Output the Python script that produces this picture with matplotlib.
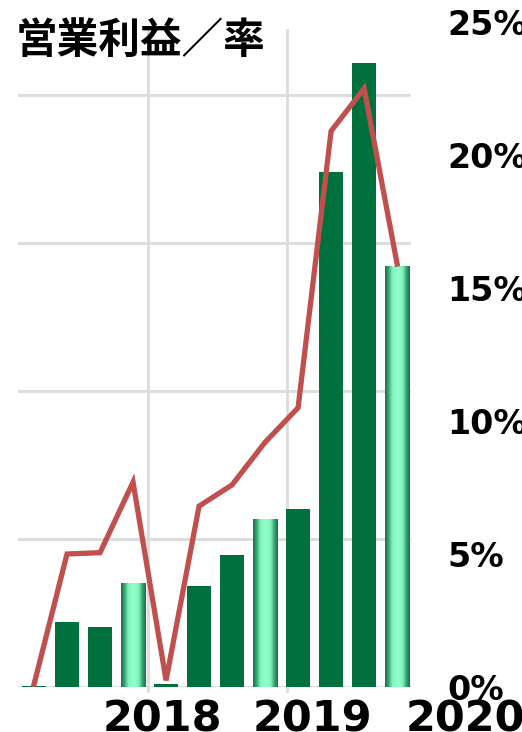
import numpy as np
import matplotlib
matplotlib.use('Agg')
import matplotlib.pyplot as plt
from matplotlib.colors import LinearSegmentedColormap

plt.rcParams['font.family'] = ['Noto Sans CJK JP', 'DejaVu Sans']

# quarterly data (12 quarters)
profit = [1, 44, 40.5, 70, 2, 68, 89, 113.5, 120, 348, 421, 284]
rate = [0.1, 5.0, 5.05, 7.7, 0.25, 6.8, 7.6, 9.2, 10.5, 20.9, 22.5, 15.9]
gradient_bar = [False, False, False, True, False, False, False, True, False, False, False, True]
year_labels = ['2018', '2019', '2020']
rate_ticks = [0, 5, 10, 15, 20, 25]
title = '営業利益／率'

dark_green = '#00703c'
line_red = '#c0504d'
grid_col = '#dcdcdc'

fig = plt.figure(figsize=(5.22, 7.32), dpi=100)
ax = fig.add_axes([18 / 522, 1 - 687 / 732, (411 - 18) / 522, (687 - 22) / 732])
ax2 = ax.twinx()

x = np.arange(len(profit))

# gridlines
for yv in [0, 100, 200, 300, 400]:
    ax.axhline(yv, color=grid_col, lw=2, zorder=0)
top_frac = (687 - 30) / (687 - 22)
for xv in [3.45, 7.67]:
    ax.axvline(xv, ymin=-0.006, ymax=top_frac, color=grid_col, lw=2, zorder=0, clip_on=False)

# bars
w = 0.73
cmap = LinearSegmentedColormap.from_list('g', ['#1f6b47', '#3aa575', '#7ff0b8', '#8fffc8',
                                               '#8fffc8', '#7ff0b8', '#3aa575', '#1f6b47'])
grad = np.linspace(0, 1, 200).reshape(1, -1)
for xi, v, g in zip(x, profit, gradient_bar):
    if g:
        bar = ax.bar(xi, v, width=w, color='none', zorder=2)[0]
        im = ax.imshow(grad, cmap=cmap, aspect='auto', extent=(xi - w / 2, xi + w / 2, 0, v),
                       zorder=2, interpolation='bilinear')
        im.set_clip_path(bar)
    else:
        ax.bar(xi, v, width=w, color=dark_green, zorder=2)
ax.set_xlim(-0.485, 11.42)
ax.set_ylim(0, 449)
ax2.set_ylim(0, 25)

# line
ax2.plot(x, rate, color=line_red, lw=3.8, zorder=3, solid_joinstyle='miter')

for a in (ax, ax2):
    for s in a.spines.values():
        s.set_visible(False)
ax.set_yticks([])
ax.set_xticks([])
ax2.set_yticks(rate_ticks)
ax2.set_yticklabels([f'{t}%' for t in rate_ticks], fontsize=24, fontweight='bold',
                    family='DejaVu Sans')
ax2.tick_params(axis='y', length=0, pad=26)

# year labels
for pos, lab in zip([3.88, 8.42, 13.06], year_labels):
    ax.text(pos, -0.018, lab, transform=ax.get_xaxis_transform(), ha='center', va='top',
            fontsize=31, fontweight='bold', family='DejaVu Sans', clip_on=False, zorder=5,
            bbox=dict(facecolor='white', edgecolor='none', pad=0))

fig.text(16 / 522, 1 - 41 / 732, title, fontsize=30, fontweight='bold', va='center', ha='left')

fig.savefig('out.png', dpi=100)
